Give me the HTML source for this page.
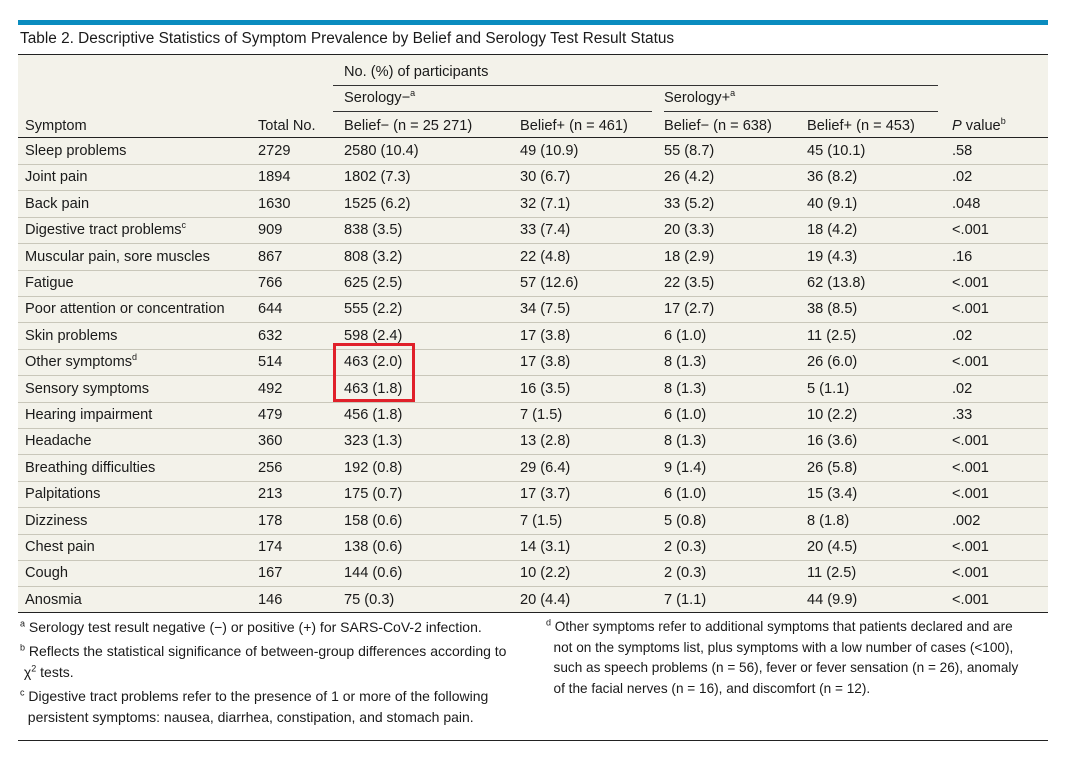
<!DOCTYPE html>
<html><head><meta charset="utf-8"><style>
body{margin:0;width:1065px;height:758px;background:#fff;position:relative;font-family:"Liberation Sans",sans-serif;color:#1a1a1a;overflow:hidden}
.a{position:absolute;white-space:nowrap}
.r{position:absolute;left:18px;width:1030px;height:26px;border-bottom:1px solid #c9c7ba;font-size:14.6px}
.r span{position:absolute;top:5px}
.c0{left:7px}.c1{left:240px}.c2{left:326px}.c3{left:502px}.c4{left:646px}.c5{left:789px}.c6{left:934px}
sup{font-size:9px;line-height:0}
.fn{position:absolute;font-size:14px;line-height:21px;white-space:nowrap}
</style></head><body>
<div class="a" style="left:18px;top:20px;width:1030px;height:5px;background:#0a8cbf"></div>
<div class="a" style="left:20px;top:30px;font-size:15.4px">Table 2. Descriptive Statistics of Symptom Prevalence by Belief and Serology Test Result Status</div>
<div class="a" style="left:18px;top:54px;width:1030px;height:559px;background:#f3f2ea;border-top:1px solid #222;border-bottom:1px solid #222;box-sizing:border-box"></div>
<div class="a" style="left:344px;top:64px;font-size:14.6px">No. (%) of participants</div>
<div class="a" style="left:333px;top:85px;width:605px;height:1px;background:#333"></div>
<div class="a" style="left:344px;top:90px;font-size:14.6px">Serology−<sup>a</sup></div>
<div class="a" style="left:664px;top:90px;font-size:14.6px">Serology+<sup>a</sup></div>
<div class="a" style="left:333px;top:111px;width:319px;height:1px;background:#333"></div>
<div class="a" style="left:664px;top:111px;width:274px;height:1px;background:#333"></div>
<div class="a" style="left:25px;top:118px;font-size:14.6px">Symptom</div>
<div class="a" style="left:258px;top:118px;font-size:14.6px">Total No.</div>
<div class="a" style="left:344px;top:118px;font-size:14.6px">Belief− (n = 25 271)</div>
<div class="a" style="left:520px;top:118px;font-size:14.6px">Belief+ (n = 461)</div>
<div class="a" style="left:664px;top:118px;font-size:14.6px">Belief− (n = 638)</div>
<div class="a" style="left:807px;top:118px;font-size:14.6px">Belief+ (n = 453)</div>
<div class="a" style="left:952px;top:118px;font-size:14.6px"><i>P</i> value<sup>b</sup></div>
<div class="a" style="left:18px;top:137px;width:1030px;height:1px;background:#222"></div>

<div class="r" style="top:138px"><span class="c0">Sleep problems</span><span class="c1">2729</span><span class="c2">2580 (10.4)</span><span class="c3">49 (10.9)</span><span class="c4">55 (8.7)</span><span class="c5">45 (10.1)</span><span class="c6">.58</span></div>
<div class="r" style="top:164.4px"><span class="c0">Joint pain</span><span class="c1">1894</span><span class="c2">1802 (7.3)</span><span class="c3">30 (6.7)</span><span class="c4">26 (4.2)</span><span class="c5">36 (8.2)</span><span class="c6">.02</span></div>
<div class="r" style="top:190.8px"><span class="c0">Back pain</span><span class="c1">1630</span><span class="c2">1525 (6.2)</span><span class="c3">32 (7.1)</span><span class="c4">33 (5.2)</span><span class="c5">40 (9.1)</span><span class="c6">.048</span></div>
<div class="r" style="top:217.2px"><span class="c0">Digestive tract problems<sup>c</sup></span><span class="c1">909</span><span class="c2">838 (3.5)</span><span class="c3">33 (7.4)</span><span class="c4">20 (3.3)</span><span class="c5">18 (4.2)</span><span class="c6">&lt;.001</span></div>
<div class="r" style="top:243.6px"><span class="c0">Muscular pain, sore muscles</span><span class="c1">867</span><span class="c2">808 (3.2)</span><span class="c3">22 (4.8)</span><span class="c4">18 (2.9)</span><span class="c5">19 (4.3)</span><span class="c6">.16</span></div>
<div class="r" style="top:270px"><span class="c0">Fatigue</span><span class="c1">766</span><span class="c2">625 (2.5)</span><span class="c3">57 (12.6)</span><span class="c4">22 (3.5)</span><span class="c5">62 (13.8)</span><span class="c6">&lt;.001</span></div>
<div class="r" style="top:296.4px"><span class="c0">Poor attention or concentration</span><span class="c1">644</span><span class="c2">555 (2.2)</span><span class="c3">34 (7.5)</span><span class="c4">17 (2.7)</span><span class="c5">38 (8.5)</span><span class="c6">&lt;.001</span></div>
<div class="r" style="top:322.8px"><span class="c0">Skin problems</span><span class="c1">632</span><span class="c2">598 (2.4)</span><span class="c3">17 (3.8)</span><span class="c4">6 (1.0)</span><span class="c5">11 (2.5)</span><span class="c6">.02</span></div>
<div class="r" style="top:349.2px"><span class="c0">Other symptoms<sup>d</sup></span><span class="c1">514</span><span class="c2">463 (2.0)</span><span class="c3">17 (3.8)</span><span class="c4">8 (1.3)</span><span class="c5">26 (6.0)</span><span class="c6">&lt;.001</span></div>
<div class="r" style="top:375.6px"><span class="c0">Sensory symptoms</span><span class="c1">492</span><span class="c2">463 (1.8)</span><span class="c3">16 (3.5)</span><span class="c4">8 (1.3)</span><span class="c5">5 (1.1)</span><span class="c6">.02</span></div>
<div class="r" style="top:402px"><span class="c0">Hearing impairment</span><span class="c1">479</span><span class="c2">456 (1.8)</span><span class="c3">7 (1.5)</span><span class="c4">6 (1.0)</span><span class="c5">10 (2.2)</span><span class="c6">.33</span></div>
<div class="r" style="top:428.4px"><span class="c0">Headache</span><span class="c1">360</span><span class="c2">323 (1.3)</span><span class="c3">13 (2.8)</span><span class="c4">8 (1.3)</span><span class="c5">16 (3.6)</span><span class="c6">&lt;.001</span></div>
<div class="r" style="top:454.8px"><span class="c0">Breathing difficulties</span><span class="c1">256</span><span class="c2">192 (0.8)</span><span class="c3">29 (6.4)</span><span class="c4">9 (1.4)</span><span class="c5">26 (5.8)</span><span class="c6">&lt;.001</span></div>
<div class="r" style="top:481.2px"><span class="c0">Palpitations</span><span class="c1">213</span><span class="c2">175 (0.7)</span><span class="c3">17 (3.7)</span><span class="c4">6 (1.0)</span><span class="c5">15 (3.4)</span><span class="c6">&lt;.001</span></div>
<div class="r" style="top:507.6px"><span class="c0">Dizziness</span><span class="c1">178</span><span class="c2">158 (0.6)</span><span class="c3">7 (1.5)</span><span class="c4">5 (0.8)</span><span class="c5">8 (1.8)</span><span class="c6">.002</span></div>
<div class="r" style="top:534px"><span class="c0">Chest pain</span><span class="c1">174</span><span class="c2">138 (0.6)</span><span class="c3">14 (3.1)</span><span class="c4">2 (0.3)</span><span class="c5">20 (4.5)</span><span class="c6">&lt;.001</span></div>
<div class="r" style="top:560.4px"><span class="c0">Cough</span><span class="c1">167</span><span class="c2">144 (0.6)</span><span class="c3">10 (2.2)</span><span class="c4">2 (0.3)</span><span class="c5">11 (2.5)</span><span class="c6">&lt;.001</span></div>
<div class="r" style="top:586.8px;border-bottom:none"><span class="c0">Anosmia</span><span class="c1">146</span><span class="c2">75 (0.3)</span><span class="c3">20 (4.4)</span><span class="c4">7 (1.1)</span><span class="c5">44 (9.9)</span><span class="c6">&lt;.001</span></div>

<div class="a" style="left:333px;top:343px;width:76px;height:53px;border:3px solid #e0202a"></div>

<div class="fn" style="left:20px;top:617px"><sup>a</sup> Serology test result negative (−) or positive (+) for SARS-CoV-2 infection.</div>
<div class="fn" style="left:20px;top:641px"><sup>b</sup> Reflects the statistical significance of between-group differences according to<br>&nbsp;χ<sup>2</sup> tests.</div>
<div class="fn" style="left:20px;top:686px"><sup>c</sup> Digestive tract problems refer to the presence of 1 or more of the following<br>&nbsp;&nbsp;persistent symptoms: nausea, diarrhea, constipation, and stomach pain.</div>
<div class="fn" style="left:546px;top:617px;font-size:13.6px;line-height:20.5px"><sup>d</sup> Other symptoms refer to additional symptoms that patients declared and are<br>&nbsp;&nbsp;not on the symptoms list, plus symptoms with a low number of cases (&lt;100),<br>&nbsp;&nbsp;such as speech problems (n = 56), fever or fever sensation (n = 26), anomaly<br>&nbsp;&nbsp;of the facial nerves (n = 16), and discomfort (n = 12).</div>
<div class="a" style="left:18px;top:740px;width:1030px;height:1px;background:#222"></div>
</body></html>
